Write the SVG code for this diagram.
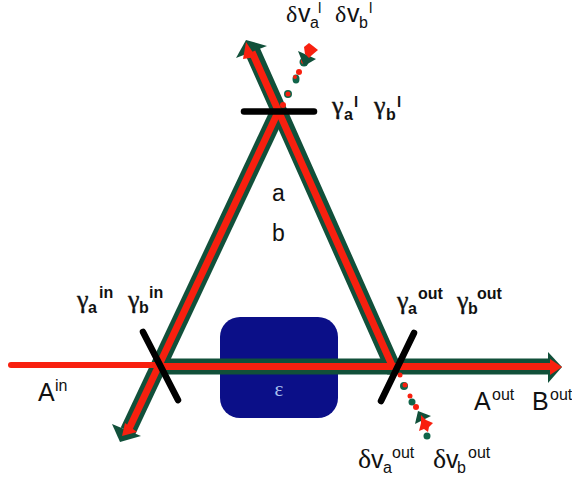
<svg xmlns="http://www.w3.org/2000/svg" width="572" height="483" viewBox="0 0 572 483">
<style>
.g{stroke:#11503a;fill:none;stroke-width:16;stroke-linejoin:miter}
.r{stroke:#f8200f;fill:none;stroke-width:7;stroke-linejoin:miter}
.m{stroke:#000;stroke-width:6.5;stroke-linecap:round}
.gh{fill:#11503a}.rh{fill:#f8200f}
.dg{fill:#11654a}.dr{fill:#f8200f}
text{font-family:"Liberation Sans",Arial,sans-serif;fill:#111}
.t{font-size:25px}.s{font-size:16px}.p{font-size:15px}
.y{font-family:"Liberation Serif","Times New Roman",serif;font-size:26px;stroke:#111;stroke-width:.4}
.d{font-family:"Liberation Serif","Times New Roman",serif;font-size:28px}
.d2{font-family:"Liberation Serif","Times New Roman",serif;font-size:24px}
.b{font-weight:bold}
</style>
<rect width="572" height="483" fill="#fff"/>
<g id="cavity-medium"><rect x="220" y="317" width="118" height="101" rx="20" fill="#0b0f88"/><text x="279" y="396" text-anchor="middle" style="font-family:'Liberation Serif',serif;font-size:21px;fill:#a9c0ee">ε</text></g>
<g id="connectors">
<path class="g" d="M128 431L279 110"/>
<path class="g" d="M252 50L392.500 366.500H552"/>
<path class="g" d="M159 366.500H392"/>
<path class="gh" d="M246 40L267 46L236 58Z"/>
<path class="gh" d="M112 424L141 436L120 442Z"/>
<path class="gh" d="M548 352L562 367L548 383Z"/>
<path d="M11 365H160" stroke="#f8200f" stroke-width="6" stroke-linecap="round" fill="none"/>
<path class="r" d="M128 431L279 110"/>
<path class="r" d="M252 52L392.500 366.500H553"/>
<path class="r" d="M159 366.500H392"/>
<path class="rh" d="M246 42L256 57L243 59Z"/>
<path class="rh" d="M122 436L137 432L125 423Z"/>
<path class="rh" d="M562 367L550 359V375Z"/>
<g id="noise-in">
<circle class="dr" cx="283" cy="105" r="3"/><circle class="dg" cx="288" cy="94" r="4"/><circle class="dr" cx="288" cy="94" r="2.500"/><ellipse class="dg" cx="296" cy="79" rx="3.500" ry="4.500"/><circle class="dr" cx="295" cy="77" r="2"/><circle class="dr" cx="299" cy="72" r="3"/><circle class="dg" cx="304" cy="62" r="4.500"/><circle class="dr" cx="304" cy="61" r="3"/>
<path class="gh" d="M298 51L316 59L304 66Z"/><path class="rh" d="M304 47L309 43L313 46L318 50L312 55L309 58L305 54Z"/>
</g>
<g id="noise-out">
<circle class="dr" cx="400" cy="375" r="2.500"/><circle class="dg" cx="404" cy="386" r="4"/><circle class="dr" cx="405" cy="385" r="2.500"/><circle class="dr" cx="410" cy="396" r="2.500"/><circle class="dg" cx="412" cy="402" r="3.500"/><circle class="dr" cx="416" cy="407" r="3"/>
<path class="gh" d="M418 411L431 416L415 424Z"/><circle class="dg" cx="427" cy="436" r="3.500"/><path class="rh" d="M421 415L426 420L433 423L429 427L428 432L424 429L419 431L421 423Z"/>
</g>
</g>
<g id="mirror-in"><line class="m" x1="143" y1="332" x2="178" y2="400"/></g>
<g id="mirror-l"><line class="m" x1="244" y1="111.500" x2="314" y2="111.500"/></g>
<g id="mirror-out"><line class="m" x1="381" y1="401" x2="414" y2="333"/></g>
<g id="labels-top">
<text x="286" y="22" class="d2">δ</text><text x="298" y="22" class="t">v</text><text x="310" y="28" class="s">a</text><text x="318" y="13" class="p">l</text>
<text x="335" y="22" class="d2">δ</text><text x="347" y="22" class="t">v</text><text x="359" y="28" class="s">b</text><text x="369" y="13" class="p">l</text>
<text x="332" y="114" class="y">γ</text><text x="344" y="120" class="s b">a</text><text x="354" y="107" class="p b">l</text>
<text x="374" y="114" class="y">γ</text><text x="386" y="120" class="s b">b</text><text x="397" y="107" class="p b">l</text>
<text x="272" y="201" style="font-size:23px">a</text><text x="272" y="241" style="font-size:23px">b</text>
</g>
<g id="labels-in">
<text x="77" y="308" class="y">γ</text><text x="88" y="313" class="s b">a</text><text x="99" y="298" class="s b">in</text>
<text x="128" y="308" class="y">γ</text><text x="139" y="313" class="s b">b</text><text x="149" y="298" class="s b">in</text>
<text x="38" y="401" class="t">A</text><text x="55" y="391" class="s">in</text>
</g>
<g id="labels-out">
<text x="397" y="309" class="y">γ</text><text x="408" y="314" class="s b">a</text><text x="418" y="299" class="s b">out</text>
<text x="457" y="309" class="y">γ</text><text x="468" y="314" class="s b">b</text><text x="477" y="299" class="s b">out</text>
<text x="474" y="410" class="t">A</text><text x="492" y="400" class="s">out</text>
<text x="532" y="410" class="t">B</text><text x="550" y="400" class="s">out</text>
<text x="358" y="468" class="d">δ</text><text x="371" y="468" class="t">v</text><text x="383" y="473" class="s">a</text><text x="392" y="458" class="s">out</text>
<text x="433" y="468" class="d">δ</text><text x="446" y="468" class="t">v</text><text x="457" y="473" class="s">b</text><text x="468" y="458" class="s">out</text>
</g>
</svg>
